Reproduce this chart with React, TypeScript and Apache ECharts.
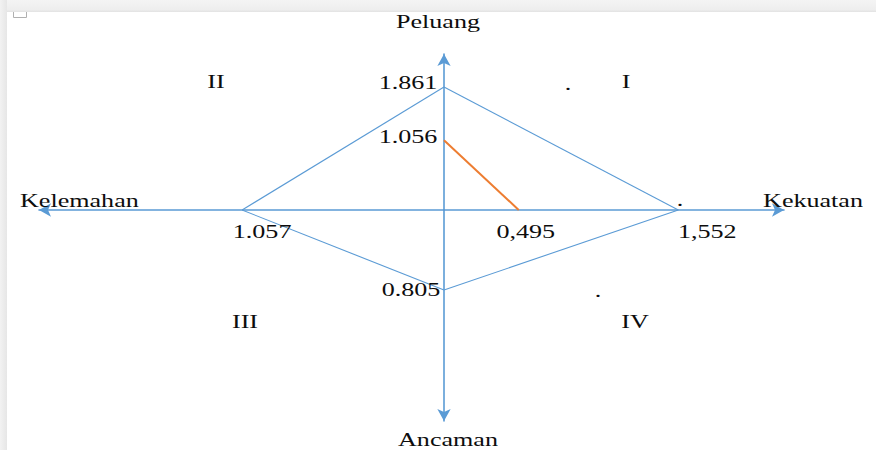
import React, { useEffect, useRef } from "react";
import * as echarts from "echarts";

// Axis names (right, up, left, down) and quadrant names
const axisNames = ["Kekuatan", "Peluang", "Kelemahan", "Ancaman"];
const quadrantNames = ["I", "II", "III", "IV"];

// SWOT scores
const strengthScore = 1.552; // Kekuatan
const weaknessScore = 1.057; // Kelemahan
const opportunityScore = 1.861; // Peluang
const threatScore = 0.805; // Ancaman
// Strategy line (orange)
const lineOpportunity = 1.056;
const lineStrength = 0.495;

// Value labels as printed
const labelStrength = "1,552";
const labelWeakness = "1.057";
const labelOpportunity = "1.861";
const labelThreat = "0.805";
const labelLineOpp = "1.056";
const labelLineStr = "0,495";

const BLUE = "#5b9bd5";
const ORANGE = "#ed7d31";
const TEXT = "#0d0d0d";
const FONT = '"Liberation Serif", "Times New Roman", serif';
const FS = 18;
const SX = 1.45;

export default function App() {
  const ref = useRef<HTMLDivElement>(null);
  useEffect(() => {
    if (!ref.current) return;
    const chart = echarts.init(ref.current, undefined, { renderer: "svg" });

    const hidden = { show: false };
    const axisCommon = {
      type: "value" as const,
      splitLine: hidden,
      axisTick: hidden,
      axisLabel: hidden,
    };
    const arrowLine = (symbol: string[]) => ({
      show: true,
      onZero: false,
      symbol,
      symbolSize: [10, 12],
      lineStyle: { color: BLUE, width: 1.6 },
    });

    const xMaxR = 2.252;
    const xMinL = -2.12;
    const yMaxT = 2.36;
    const yMinB = -2.123;

    const grids = [
      { left: 444, top: 54, width: 340, height: 156 }, // I
      { left: 39, top: 54, width: 405, height: 156 }, // II
      { left: 39, top: 210, width: 405, height: 211 }, // III
      { left: 444, top: 210, width: 340, height: 211 }, // IV
    ];

    const xAxes = [
      { ...axisCommon, gridIndex: 0, min: 0, max: xMaxR, axisLine: arrowLine(["none", "arrow"]) },
      { ...axisCommon, gridIndex: 1, min: xMinL, max: 0, axisLine: arrowLine(["arrow", "none"]) },
      { ...axisCommon, gridIndex: 2, min: xMinL, max: 0, axisLine: hidden },
      { ...axisCommon, gridIndex: 3, min: 0, max: xMaxR, axisLine: hidden },
    ];
    const yAxes = [
      { ...axisCommon, gridIndex: 0, min: 0, max: yMaxT, axisLine: arrowLine(["none", "arrow"]) },
      { ...axisCommon, gridIndex: 1, min: 0, max: yMaxT, axisLine: hidden },
      { ...axisCommon, gridIndex: 2, min: yMinB, max: 0, axisLine: hidden },
      { ...axisCommon, gridIndex: 3, min: yMinB, max: 0, axisLine: arrowLine(["arrow", "none"]) },
    ];

    const edge = (idx: number, data: number[][], color = BLUE, width = 1.1) => ({
      type: "line" as const,
      xAxisIndex: idx,
      yAxisIndex: idx,
      data,
      symbol: "none",
      clip: false,
      silent: true,
      lineStyle: { color, width },
      z: 3,
    });

    const textEl = (text: string, x: number, y: number, align = "center") => ({
      type: "text",
      x,
      y,
      scaleX: SX,
      z: 10,
      style: {
        text,
        fill: TEXT,
        fontFamily: FONT,
        fontSize: FS,
        align,
        verticalAlign: "middle",
      },
    });

    const baseGraphic: any[] = [
      {
        type: "rect",
        z: -10,
        shape: { x: 0, y: 0, width: 876, height: 12 },
        style: {
          fill: new echarts.graphic.LinearGradient(0, 0, 0, 1, [
            { offset: 0, color: "#f4f4f4" },
            { offset: 0.8, color: "#eeeeee" },
            { offset: 1, color: "#e2e2e2" },
          ]),
        },
      },
      {
        type: "rect",
        z: -10,
        shape: { x: 0, y: 0, width: 7, height: 450 },
        style: {
          fill: new echarts.graphic.LinearGradient(0, 0, 1, 0, [
            { offset: 0, color: "#f2f2f2" },
            { offset: 1, color: "#e6e6e6" },
          ]),
        },
      },
      {
        type: "polyline",
        z: 10,
        shape: { points: [[13.5, 12], [13.5, 17.5], [26.5, 17.5], [26.5, 12]] },
        style: { stroke: "#b0b0b0", lineWidth: 1, fill: "none" },
      },
      textEl(axisNames[1], 438, 22),
      textEl(axisNames[3], 448, 440),
      textEl(axisNames[2], 20, 201, "left"),
      textEl(axisNames[0], 863, 201, "right"),
      textEl(quadrantNames[0], 626, 82),
      textEl(quadrantNames[1], 216, 82),
      textEl(quadrantNames[2], 245, 322),
      textEl(quadrantNames[3], 635, 322),
      textEl(".", 568, 84),
      textEl(".", 598, 291),
      textEl(".", 680, 200),
    ];

    chart.setOption({
      animation: false,
      backgroundColor: "#ffffff",
      grid: grids,
      xAxis: xAxes,
      yAxis: yAxes,
      series: [
        edge(0, [[strengthScore, 0], [0, opportunityScore]]),
        edge(1, [[-weaknessScore, 0], [0, opportunityScore]]),
        edge(2, [[-weaknessScore, 0], [0, -threatScore]]),
        edge(3, [[strengthScore, 0], [0, -threatScore]]),
        edge(0, [[0, lineOpportunity], [lineStrength, 0]], ORANGE, 2),
      ],
      graphic: baseGraphic,
    });

    // Value labels placed at the data points via the chart's own scales
    const valueLabels: [number, number[], string, number[]][] = [
      [0, [0, opportunityScore], labelOpportunity, [-36, -4]],
      [0, [0, lineOpportunity], labelLineOpp, [-36, -3]],
      [1, [-weaknessScore, 0], labelWeakness, [20, 22]],
      [0, [lineStrength, 0], labelLineStr, [7, 22]],
      [0, [strengthScore, 0], labelStrength, [29, 22]],
      [3, [0, -threatScore], labelThreat, [-33, 0]],
    ];
    const labelEls = valueLabels.map(([g, pt, text, off]) => {
      const p = chart.convertToPixel({ gridIndex: g }, pt) as number[];
      return textEl(text, p[0] + off[0], p[1] + off[1]);
    });
    chart.setOption({ graphic: [...baseGraphic, ...labelEls] }, { replaceMerge: ["graphic"] });

    return () => chart.dispose();
  }, []);
  return (
    <div
      ref={ref}
      style={{ position: "absolute", left: 0, top: 0, width: 876, height: 450 }}
    />
  );
}
